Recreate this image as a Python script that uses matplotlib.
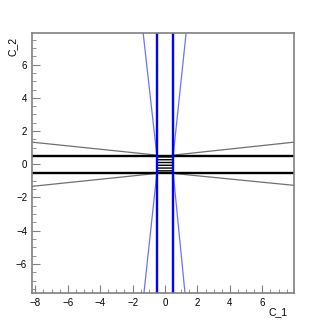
import matplotlib.pyplot as plt
import matplotlib.ticker as mticker

# axis ranges
x_range = [-8.2, 7.95]
y_range = [-7.75, 7.9]

# thick cut lines
cut_c1 = [-0.5, 0.5]
cut_c2 = [-0.5, 0.5]

# thin blue boundaries (x, y pairs from the corner of the box out to the frame)
blue_ul_x = [-0.5, -1.35]; blue_ul_y = [0.5, 7.9]
blue_ur_x = [0.5, 1.3];    blue_ur_y = [0.5, 7.9]
blue_ll_x = [-0.5, -1.3];  blue_ll_y = [-0.5, -7.75]
blue_lr_x = [0.5, 1.23];   blue_lr_y = [-0.5, -7.75]

# thin gray boundaries
gray_ul_x = [-8.2, -0.5];  gray_ul_y = [1.33, 0.55]
gray_ur_x = [0.5, 7.95];   gray_ur_y = [0.55, 1.33]
gray_ll_x = [-8.2, -0.5];  gray_ll_y = [-1.33, -0.55]
gray_lr_x = [0.5, 7.95];   gray_lr_y = [-0.55, -1.27]

plt.rcParams['font.family'] = ['Liberation Sans', 'DejaVu Sans']
fig = plt.figure(figsize=(3.27, 3.27), dpi=100)
ax = fig.add_axes([0.098, 0.104, 0.801, 0.795])

# hatched box in the middle
ax.fill_between(cut_c1, cut_c2[0], cut_c2[1], facecolor='none',
                edgecolor='black', hatch='------', linewidth=0)

thin_blue = '#7070ff'
for xs, ys in [(blue_ul_x, blue_ul_y), (blue_ur_x, blue_ur_y),
               (blue_ll_x, blue_ll_y), (blue_lr_x, blue_lr_y)]:
    ax.plot(xs, ys, color=thin_blue, lw=0.9)
for xs, ys in [(gray_ul_x, gray_ul_y), (gray_ur_x, gray_ur_y),
               (gray_ll_x, gray_ll_y), (gray_lr_x, gray_lr_y)]:
    ax.plot(xs, ys, color='#707070', lw=0.9)

for c in cut_c2:
    ax.axhline(c, color='black', lw=1.7)
for c in cut_c1:
    ax.axvline(c, color='#0000ff', lw=1.7)

ax.set_xlim(x_range)
ax.set_ylim(y_range)
ax.xaxis.set_major_locator(mticker.MultipleLocator(2))
ax.xaxis.set_minor_locator(mticker.MultipleLocator(0.5))
ax.yaxis.set_major_locator(mticker.MultipleLocator(2))
ax.yaxis.set_minor_locator(mticker.MultipleLocator(0.5))
ax.tick_params(which='both', direction='in', color='#808080', labelsize=7)
ax.tick_params(which='major', length=6)
ax.tick_params(which='minor', length=3)
for s in ax.spines.values():
    s.set_color('#808080')
    s.set_linewidth(1.2)

fig.text(0.82, 0.035, 'C_1', fontsize=7.5)
fig.text(0.022, 0.835, 'C_2', fontsize=7.5, rotation=90)

plt.savefig('out.png')
